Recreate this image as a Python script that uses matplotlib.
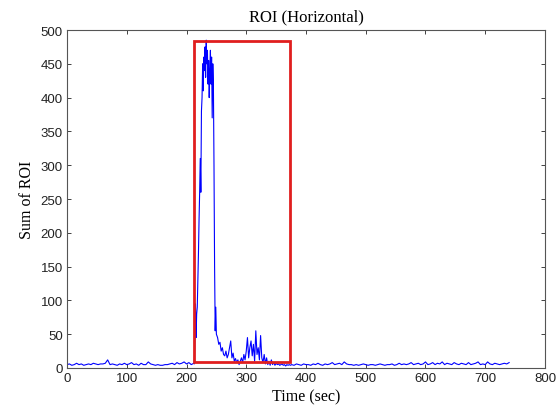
import numpy as np
import matplotlib
matplotlib.use("Agg")
import matplotlib.pyplot as plt
from matplotlib.patches import Rectangle

# ---- data ----
t_pre = np.arange(0, 213, 4)
v_pre = [5,6,4,5,7,5,6,4,5,6,
         5,7,6,5,6,6,7,12,5,6,
         5,4,6,5,7,5,6,8,5,6,
         4,7,5,5,9,6,5,4,5,4,
         4,5,5,6,7,5,8,6,7,9,
         6,8,5,7]

t_peak = np.arange(213, 251, 1)
v_peak = [6,40,95,45,80,90,130,170,220,260,
          310,260,380,400,450,410,460,440,475,430,
          485,450,470,420,455,400,440,470,420,460,
          370,450,420,300,150,55,90,50]

t_tail = np.arange(252, 375, 2)
v_tail = [45,35,38,25,30,20,18,25,15,20,
          30,40,15,22,10,14,8,12,5,10,
          15,8,20,12,25,45,15,30,40,18,
          35,10,55,20,30,12,48,15,8,20,
          6,15,5,10,4,12,5,8,4,7,
          5,6,4,5,6,4,5,3,5,4,
          5,4]

t_post = np.arange(376, 741, 4)
v_post = [5,4,6,5,4,6,5,5,4,6,
          5,7,5,4,6,5,6,8,5,6,
          7,5,9,6,5,5,4,5,4,5,
          6,5,4,5,5,4,5,6,5,4,
          5,5,6,4,5,7,5,6,5,6,
          8,5,6,7,5,6,9,5,6,8,
          5,7,6,9,5,7,6,5,8,6,
          5,7,6,5,8,5,6,7,9,5,
          6,5,9,6,5,7,6,5,6,7,
          6,8]

roi_x = [213, 373]
roi_y = [9, 484]

x_ticks = [0, 100, 200, 300, 400, 500, 600, 700, 800]
y_ticks = [0, 50, 100, 150, 200, 250, 300, 350, 400, 450, 500]

t = np.concatenate([t_pre, t_peak, t_tail, t_post])
v = np.concatenate([v_pre, v_peak, v_tail, v_post])

fig = plt.figure(figsize=(5.59, 4.14), dpi=100)
ax = fig.add_axes([0.1199, 0.1087, 0.855, 0.8164])

ax.plot(t, v, color=(0, 0, 1), lw=0.8)
ax.add_patch(Rectangle((roi_x[0], roi_y[0]), roi_x[1] - roi_x[0], roi_y[1] - roi_y[0],
                       fill=False, edgecolor="#e01e1e", lw=2.0, zorder=3))

ax.set_xlim(0, 800)
ax.set_ylim(0, 500)
ax.set_xticks(x_ticks)
ax.set_yticks(y_ticks)
ax.tick_params(direction="in", top=True, right=True, length=3, width=0.6,
               labelsize=9.5, colors="#222222", pad=3)
for lbl in ax.get_xticklabels() + ax.get_yticklabels():
    lbl.set_family("Liberation Sans")
for s in ax.spines.values():
    s.set_color("#555555")
    s.set_linewidth(0.8)

serif = "Liberation Serif"
ax.set_title("ROI (Horizontal)", family=serif, fontsize=12, pad=7)
ax.set_xlabel("Time (sec)", family=serif, fontsize=11.5, labelpad=3)
ax.set_ylabel("Sum of ROI", family=serif, fontsize=11.5, labelpad=4)

fig.savefig("out.png", dpi=100)
